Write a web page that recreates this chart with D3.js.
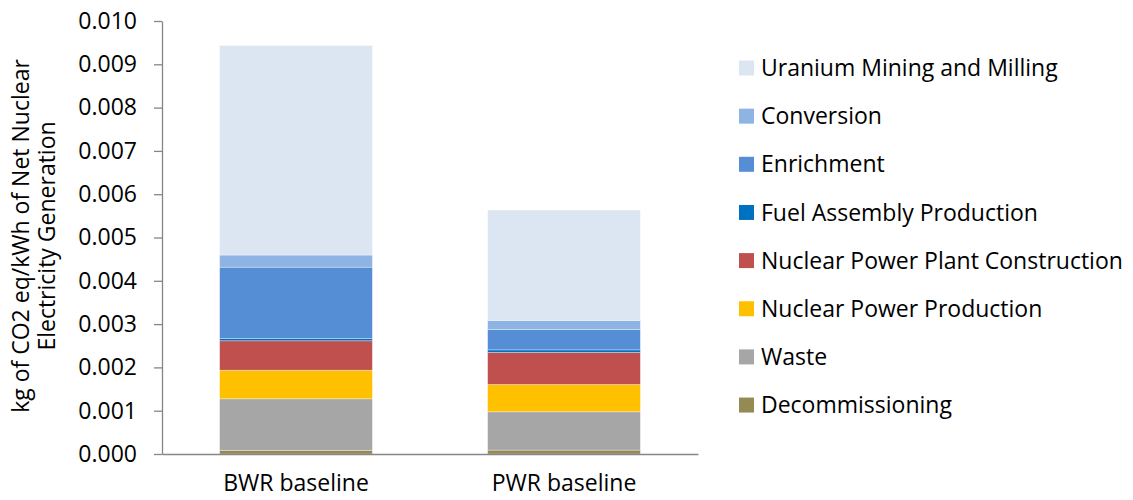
<!DOCTYPE html>
<html>
<head>
<meta charset="utf-8">
<script src="https://cdn.jsdelivr.net/npm/d3@7"></script>
<style>
  html, body { margin: 0; padding: 0; background: #fff; }
  svg { display: block; font-family: "Open Sans", sans-serif; }
</style>
</head>
<body>
<svg id="chart" width="1133" height="500"></svg>
<script>
// Life-cycle greenhouse gas emissions per stage (kg CO2 eq / kWh)
const categories = ["BWR baseline", "PWR baseline"];
const stages = [
  "Decommissioning",
  "Waste",
  "Nuclear Power Production",
  "Nuclear Power Plant Construction",
  "Fuel Assembly Production",
  "Enrichment",
  "Conversion",
  "Uranium Mining and Milling"
];
const decommissioning = [0.000085, 0.00009];
const waste = [0.00119, 0.000885];
const powerProduction = [0.00066, 0.00063];
const plantConstruction = [0.00068, 0.00074];
const fuelAssembly = [0.00005, 0.00006];
const enrichment = [0.00165, 0.00047];
const conversion = [0.00028, 0.00021];
const uraniumMining = [0.00484, 0.00255];
const yTicks = [0, 0.001, 0.002, 0.003, 0.004, 0.005, 0.006, 0.007, 0.008, 0.009, 0.010];
const colors = ["#948A54", "#A6A6A6", "#FFC000", "#C0504D", "#0070C0", "#558ED5", "#8EB4E3", "#DCE6F2"];

const seriesValues = [decommissioning, waste, powerProduction, plantConstruction,
                      fuelAssembly, enrichment, conversion, uraniumMining];

const rows = categories.map((c, i) => {
  const r = { category: c };
  stages.forEach((s, k) => { r[s] = seriesValues[k][i]; });
  return r;
});

const svg = d3.select("#chart");
const FONT = "23px";
const axisLeftX = 162;

const x = d3.scaleBand()
  .domain(categories)
  .range([axisLeftX, 698])
  .paddingInner(0.43)
  .paddingOuter(0.215);

const y = d3.scaleLinear()
  .domain([0, 0.010])
  .range([454, 21]);

const color = d3.scaleOrdinal().domain(stages).range(colors);

const stacked = d3.stack().keys(stages)(rows);

// stacked bars
svg.append("g")
  .selectAll("g")
  .data(stacked)
  .join("g")
  .attr("fill", d => color(d.key))
  .selectAll("rect")
  .data(d => d)
  .join("rect")
  .attr("x", d => x(d.data.category))
  .attr("width", x.bandwidth())
  .attr("y", d => y(d[1]))
  .attr("height", d => y(d[0]) - y(d[1]))
  .attr("stroke", "#ffffff")
  .attr("stroke-opacity", 0.45)
  .attr("stroke-width", 0.75);

// y axis
const yAxis = svg.append("g")
  .attr("transform", `translate(${axisLeftX},0)`)
  .call(d3.axisLeft(y).tickValues(yTicks).tickFormat(d3.format(".3f")).tickSize(8).tickSizeOuter(0));
yAxis.select(".domain").attr("stroke", "#868686").attr("stroke-width", 1.3);
yAxis.selectAll(".tick line").attr("stroke", "#868686").attr("stroke-width", 1.3);
yAxis.selectAll(".tick text")
  .attr("x", -25)
  .attr("fill", "#000")
  .style("font-family", "'Open Sans', sans-serif")
  .style("font-size", FONT);

// x axis
const xAxis = svg.append("g")
  .attr("transform", "translate(0,454)")
  .call(d3.axisBottom(x).tickSize(0).tickSizeOuter(0));
xAxis.select(".domain").attr("stroke", "#868686").attr("stroke-width", 1.3);
xAxis.selectAll(".tick text")
  .attr("y", 21)
  .attr("fill", "#000")
  .style("font-family", "'Open Sans', sans-serif")
  .style("font-size", FONT);

// y axis title
const title = svg.append("text")
  .attr("transform", "translate(21,236) rotate(-90)")
  .attr("text-anchor", "middle")
  .style("font-size", FONT)
  .attr("fill", "#000");
title.append("tspan").attr("x", 0).attr("dy", "0.35em").text("kg of CO2 eq/kWh of Net Nuclear");
title.append("tspan").attr("x", 0).attr("dy", 26).text("Electricity Generation");

// legend (top to bottom mirrors the stack order)
const legendItems = stages.slice().reverse();
const legend = svg.append("g")
  .selectAll("g")
  .data(legendItems)
  .join("g")
  .attr("transform", (d, i) => `translate(739,${68 + i * 48.15})`);
legend.append("rect")
  .attr("x", 0).attr("y", -7.5)
  .attr("width", 15).attr("height", 15)
  .attr("fill", d => color(d));
legend.append("text")
  .attr("x", 22).attr("dy", "0.35em")
  .style("font-size", FONT)
  .attr("fill", "#000")
  .text(d => d);
</script>
</body>
</html>
